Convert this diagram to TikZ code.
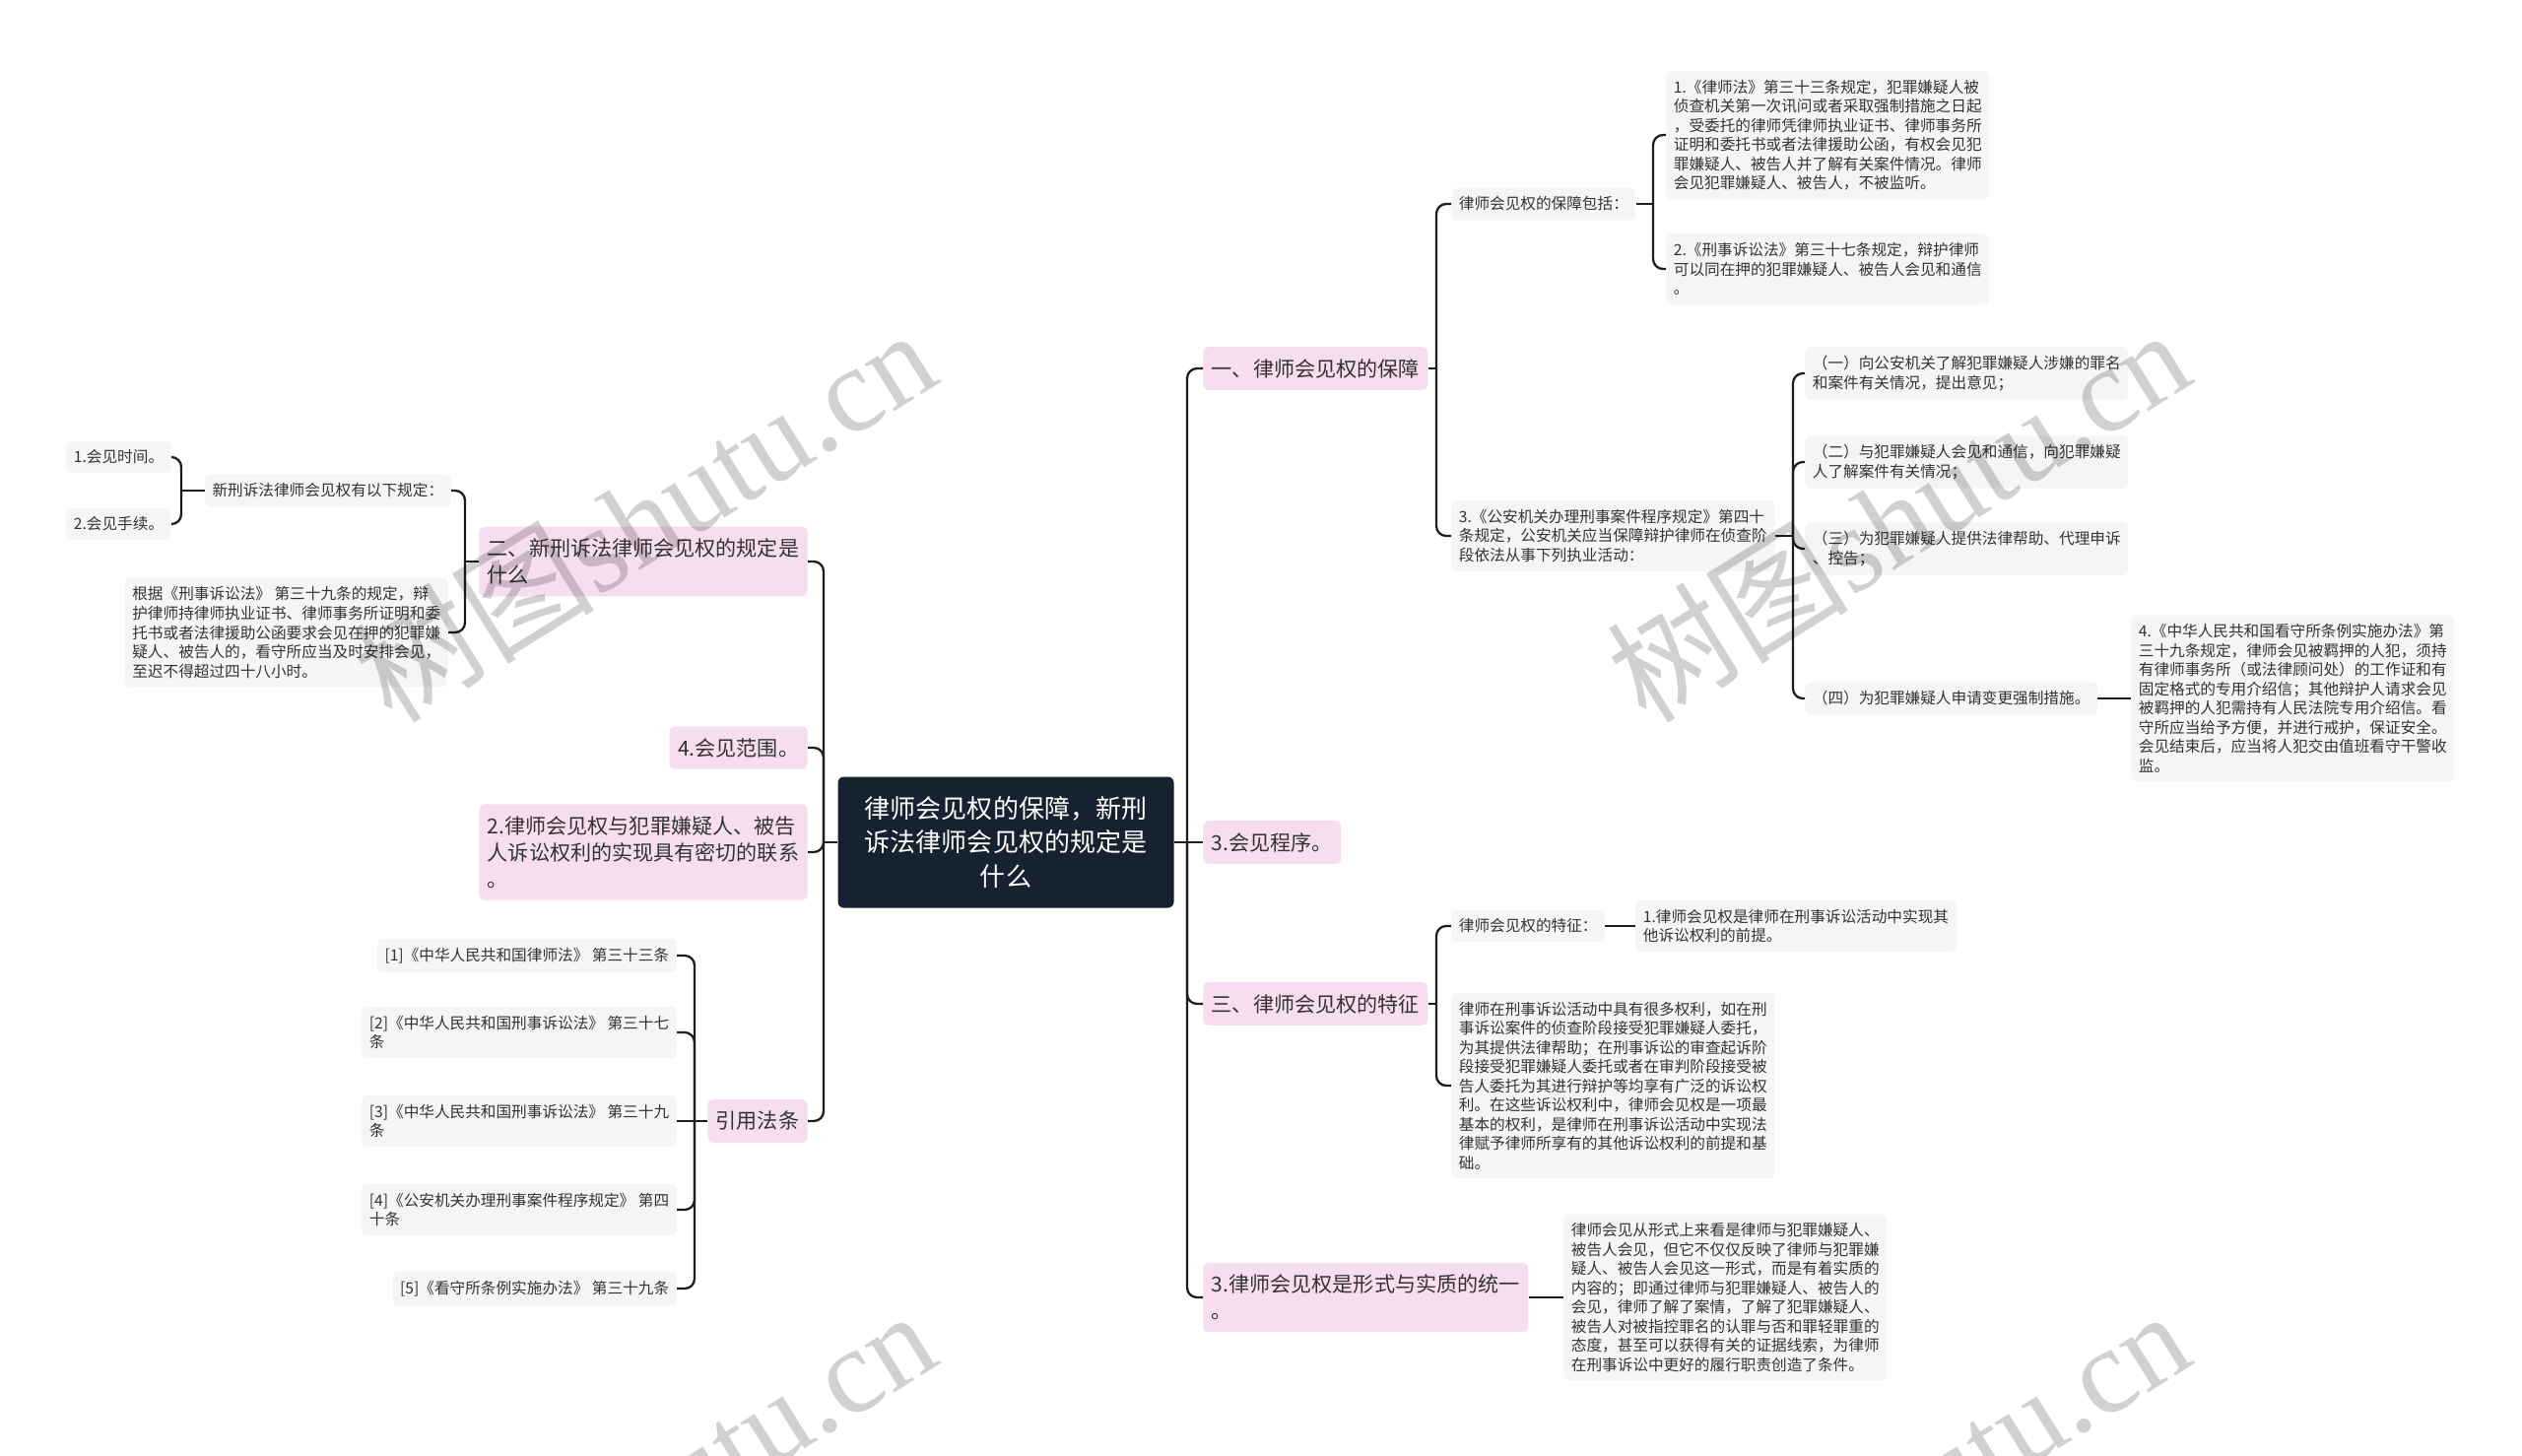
\documentclass[tikz,border=0pt]{standalone}
\usepackage{fontspec}
\newfontfamily\cjk{Noto Sans CJK SC}
\newfontfamily\wmlatin{Liberation Serif}
\usepackage{tikz}
\usetikzlibrary{positioning}
\usepackage{xcolor}
\definecolor{rootbg}{HTML}{172230}
\definecolor{topicbg}{HTML}{F6DDF0}
\definecolor{leafbg}{HTML}{F5F5F5}
\definecolor{txtc}{HTML}{333333}
\definecolor{linec}{HTML}{1E1E1E}

\begin{document}
\begin{tikzpicture}[x=0.2mm, y=-0.2mm,
    every node/.style={font=\cjk, text=txtc},
    root/.style={fill=rootbg, text=white, rounded corners=1.2mm, align=center,
      minimum width=68.2mm, minimum height=26.6mm, inner sep=0pt,
      font=\cjk\fontsize{14.8}{19.4}\selectfont},
    topic/.style={fill=topicbg, rounded corners=1mm, align=left,
      inner xsep=1.7mm, inner ysep=2.4mm, font=\cjk\fontsize{12}{15.4}\selectfont},
    leaf/.style={fill=leafbg, rounded corners=1mm, align=left,
      inner xsep=1.5mm, inner ysep=1.8mm, font=\cjk\fontsize{8.9}{11.1}\selectfont},
    link/.style={draw=linec, line width=1.3pt, rounded corners=2mm},
    wmark/.style={text=black, text opacity=0.18, rotate=32, inner sep=0pt,
      font=\fontsize{70}{70}\selectfont}]
  \fill[white] (0,0) rectangle (2560,1478);
  \useasboundingbox (0,0) rectangle (2560,1478);

  \node[root] (ctr) at (1021,855) {律师会见权的保障，新刑\\诉法律师会见权的规定是\\什么};

  \node[topic, anchor=west] (r1) at (1221,374) {一、律师会见权的保障};
  \node[topic, anchor=west] (r2) at (1221,855) {3.会见程序。};
  \node[topic, anchor=west] (r3) at (1221,1019) {三、律师会见权的特征};
  \node[topic, anchor=west] (r4) at (1221,1317) {3.律师会见权是形式与实质的统一\\。};

  \node[leaf, anchor=west] (r1a) at (1473,207) {律师会见权的保障包括：};
  \node[leaf, anchor=west] (r1a1) at (1691,137) {1.《律师法》第三十三条规定，犯罪嫌疑人被\\侦查机关第一次讯问或者采取强制措施之日起\\，受委托的律师凭律师执业证书、律师事务所\\证明和委托书或者法律援助公函，有权会见犯\\罪嫌疑人、被告人并了解有关案件情况。律师\\会见犯罪嫌疑人、被告人，不被监听。};
  \node[leaf, anchor=west] (r1a2) at (1691,273) {2.《刑事诉讼法》第三十七条规定，辩护律师\\可以同在押的犯罪嫌疑人、被告人会见和通信\\。};
  \node[leaf, anchor=west] (r1b) at (1473,544) {3.《公安机关办理刑事案件程序规定》第四十\\条规定，公安机关应当保障辩护律师在侦查阶\\段依法从事下列执业活动：};
  \node[leaf, anchor=west] (r1b1) at (1832,379) {（一）向公安机关了解犯罪嫌疑人涉嫌的罪名\\和案件有关情况，提出意见；};
  \node[leaf, anchor=west] (r1b2) at (1832,469) {（二）与犯罪嫌疑人会见和通信，向犯罪嫌疑\\人了解案件有关情况；};
  \node[leaf, anchor=west] (r1b3) at (1832,557) {（三）为犯罪嫌疑人提供法律帮助、代理申诉\\、控告；};
  \node[leaf, anchor=west] (r1b4) at (1832,709) {（四）为犯罪嫌疑人申请变更强制措施。};
  \node[leaf, anchor=west] (r1b4a) at (2163,709) {4.《中华人民共和国看守所条例实施办法》第\\三十九条规定，律师会见被羁押的人犯，须持\\有律师事务所（或法律顾问处）的工作证和有\\固定格式的专用介绍信；其他辩护人请求会见\\被羁押的人犯需持有人民法院专用介绍信。看\\守所应当给予方便，并进行戒护，保证安全。\\会见结束后，应当将人犯交由值班看守干警收\\监。};

  \node[leaf, anchor=west] (r3a) at (1473,940) {律师会见权的特征：};
  \node[leaf, anchor=west] (r3a1) at (1660,940) {1.律师会见权是律师在刑事诉讼活动中实现其\\他诉讼权利的前提。};
  \node[leaf, anchor=west] (r3b) at (1473,1102) {律师在刑事诉讼活动中具有很多权利，如在刑\\事诉讼案件的侦查阶段接受犯罪嫌疑人委托，\\为其提供法律帮助；在刑事诉讼的审查起诉阶\\段接受犯罪嫌疑人委托或者在审判阶段接受被\\告人委托为其进行辩护等均享有广泛的诉讼权\\利。在这些诉讼权利中，律师会见权是一项最\\基本的权利，是律师在刑事诉讼活动中实现法\\律赋予律师所享有的其他诉讼权利的前提和基\\础。};
  \node[leaf, anchor=west] (r4a) at (1587,1317) {律师会见从形式上来看是律师与犯罪嫌疑人、\\被告人会见，但它不仅仅反映了律师与犯罪嫌\\疑人、被告人会见这一形式，而是有着实质的\\内容的；即通过律师与犯罪嫌疑人、被告人的\\会见，律师了解了案情，了解了犯罪嫌疑人、\\被告人对被指控罪名的认罪与否和罪轻罪重的\\态度，甚至可以获得有关的证据线索，为律师\\在刑事诉讼中更好的履行职责创造了条件。};

  \node[topic, anchor=east] (l1) at (820,570) {二、新刑诉法律师会见权的规定是\\什么};
  \node[topic, anchor=east] (l2) at (820,759) {4.会见范围。};
  \node[topic, anchor=east] (l3) at (820,865) {2.律师会见权与犯罪嫌疑人、被告\\人诉讼权利的实现具有密切的联系\\。};
  \node[topic, anchor=east] (l4) at (820,1138) {引用法条};

  \node[leaf, anchor=east] (l1a) at (458,498) {新刑诉法律师会见权有以下规定：};
  \node[leaf, anchor=east] (l1a1) at (174,464) {1.会见时间。};
  \node[leaf, anchor=east] (l1a2) at (174,532) {2.会见手续。};
  \node[leaf, anchor=east] (l1b) at (455,642) {根据《刑事诉讼法》 第三十九条的规定，辩\\护律师持律师执业证书、律师事务所证明和委\\托书或者法律援助公函要求会见在押的犯罪嫌\\疑人、被告人的，看守所应当及时安排会见，\\至迟不得超过四十八小时。};

  \node[leaf, anchor=east] (l4a) at (687,970) {[1]《中华人民共和国律师法》 第三十三条};
  \node[leaf, anchor=east] (l4b) at (687,1048) {[2]《中华人民共和国刑事诉讼法》 第三十七\\条};
  \node[leaf, anchor=east] (l4c) at (687,1138) {[3]《中华人民共和国刑事诉讼法》 第三十九\\条};
  \node[leaf, anchor=east] (l4d) at (687,1228) {[4]《公安机关办理刑事案件程序规定》 第四\\十条};
  \node[leaf, anchor=east] (l4e) at (687,1308) {[5]《看守所条例实施办法》 第三十九条};

  \coordinate (rt) at (1205,855);
  \coordinate (lt) at (836,855);
  \draw[link] (ctr.east) -- (rt);
  \draw[link] (rt) |- (r1.west);
  \draw[link] (rt) -- (r2.west);
  \draw[link] (rt) |- (r3.west);
  \draw[link] (rt) |- (r4.west);
  \draw[link] (ctr.west) -- (lt);
  \draw[link] (lt) |- (l1.east);
  \draw[link] (lt) |- (l2.east);
  \draw[link] (lt) |- (l3.east);
  \draw[link] (lt) |- (l4.east);

  \coordinate (r1t) at (1458,374);
  \draw[link] (r1.east) -- (r1t);
  \draw[link] (r1t) |- (r1a.west);
  \draw[link] (r1t) |- (r1b.west);
  \coordinate (r1at) at (1678,207);
  \draw[link] (r1a.east) -- (r1at);
  \draw[link] (r1at) |- (r1a1.west);
  \draw[link] (r1at) |- (r1a2.west);
  \coordinate (r1bt) at (1820,544);
  \draw[link] (r1b.east) -- (r1bt);
  \draw[link] (r1bt) |- (r1b1.west);
  \draw[link] (r1bt) |- (r1b2.west);
  \draw[link] (r1bt) |- (r1b3.west);
  \draw[link] (r1bt) |- (r1b4.west);
  \draw[link] (r1b4.east) -- (r1b4a.west);
  \coordinate (r3t) at (1458,1019);
  \draw[link] (r3.east) -- (r3t);
  \draw[link] (r3t) |- (r3a.west);
  \draw[link] (r3t) |- (r3b.west);
  \draw[link] (r3a.east) -- (r3a1.west);
  \draw[link] (r4.east) -- (r4a.west);

  \coordinate (l1t) at (472,570);
  \draw[link] (l1.west) -- (l1t);
  \draw[link] (l1t) |- (l1a.east);
  \draw[link] (l1t) |- (l1b.east);
  \coordinate (l1at) at (184,498);
  \draw[link] (l1a.west) -- (l1at);
  \draw[link] (l1at) |- (l1a1.east);
  \draw[link] (l1at) |- (l1a2.east);
  \coordinate (l4t) at (705,1138);
  \draw[link] (l4.west) -- (l4t);
  \draw[link] (l4t) |- (l4a.east);
  \draw[link] (l4t) |- (l4b.east);
  \draw[link] (l4t) -- (l4c.east);
  \draw[link] (l4t) |- (l4d.east);
  \draw[link] (l4t) |- (l4e.east);

  \node[wmark] (wm1) at (653,522) {{\cjk 树图}{\wmlatin shutu.cn}};
  \node[wmark] (wm2) at (1926,522) {{\cjk 树图}{\wmlatin shutu.cn}};
  \node[wmark] (wm3) at (653,1518) {{\cjk 树图}{\wmlatin shutu.cn}};
  \node[wmark] (wm4) at (1926,1518) {{\cjk 树图}{\wmlatin shutu.cn}};
\end{tikzpicture}
\end{document}
